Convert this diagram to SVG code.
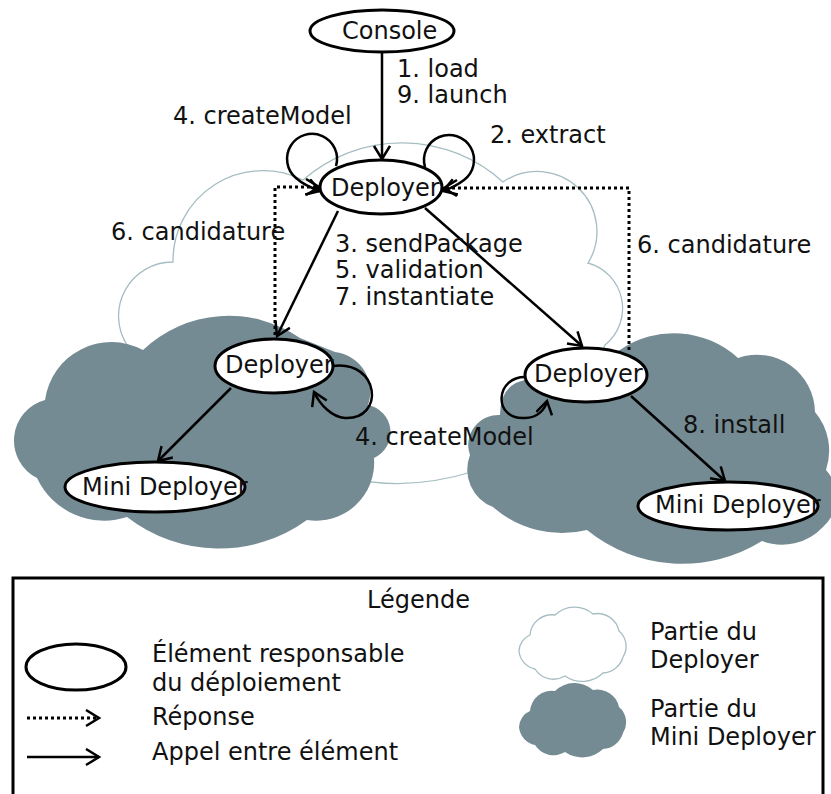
<svg xmlns="http://www.w3.org/2000/svg" width="831" height="794" viewBox="0 0 831 794">
<style>
text{font-family:"DejaVu Sans","Liberation Sans",sans-serif;font-size:24px;fill:#111}
.node{fill:#fff;stroke:#000;stroke-width:3}
.call{fill:none;stroke:#000;stroke-width:2.5;marker-end:url(#arr)}
.resp{fill:none;stroke:#000;stroke-width:3;stroke-dasharray:3 3;marker-end:url(#arr)}
.light{fill:#fff;stroke:#a6bec3;stroke-width:1.3}
.dark{fill:#758b93;stroke:none}
</style>
<defs>
<marker id="arr" markerUnits="userSpaceOnUse" markerWidth="18" markerHeight="20" refX="14" refY="9" orient="auto">
<path d="M1,1 L14,9 L1,17" fill="none" stroke="#000" stroke-width="2.5"/>
</marker>
<path id="cloud" d="M15 28 A22 22 0 0 1 40 8 A28 28 0 0 1 78 7 A22 22 0 0 1 104 24 A20 20 0 0 1 108 50 A22 22 0 0 1 88 66 A30 30 0 0 1 50 69 A22 22 0 0 1 20 62 A20 20 0 0 1 4 44 A18 18 0 0 1 15 28 Z"/>
</defs>
<g id="clouds">
<path class="light" d="M127 345 A54 54 0 0 1 173 262 A90 90 0 0 1 303 180 A150 150 0 0 1 503 182 A60 60 0 0 1 588 263 A47 47 0 0 1 605 345 L590 380 L540 440 L475 471 Q420 488 372 482 L200 450 L110 400 Z"/>
<path class="dark" d="M45 400 A67 67 0 0 1 143 350 A125 125 0 0 1 300 338 L335 352 A40 40 0 0 1 368 405 A28 28 0 0 1 374 458 A58 58 0 0 1 307 520 A150 150 0 0 1 127 517 A74 74 0 0 1 37 478 A42 42 0 0 1 45 400 Z"/>
<path class="dark" d="M620 350 A95 95 0 0 1 738 358 A58 58 0 0 1 815 412 A60 60 0 0 1 826 470 A40 40 0 0 1 823 527 A56 56 0 0 1 762 541 A151 151 0 0 1 587 530 A104 104 0 0 1 493 507 A40 40 0 0 1 470 455 A30 30 0 0 1 500 415 Q500 385 525 380 L560 372 Z"/>
</g>
<g id="connectors">
<path class="call" d="M382 53 L382 159"/>
<path class="call" d="M336 166 A25 25 0 1 0 296 178 Q305 186 320 191"/>
<path class="call" d="M425 167 A25 25 0 1 1 464 180 Q455 187 443 191"/>
<path class="resp" d="M275 335 L275 187 L319 187"/>
<path class="resp" d="M629 350 L629 188 L444 188"/>
<path class="call" d="M338 211 L277 336"/>
<path class="call" d="M425 208 L582 346"/>
<path class="call" d="M231 388 L158 461"/>
<path class="call" d="M631 396 L725 481"/>
<path class="call" d="M333 366 C380 360 385 420 345 418 C332 417 320 405 314 392"/>
<path class="call" d="M527 377 C495 375 492 420 525 418 C537 418 545 410 547 401"/>
</g>
<g id="labels">
<text x="397" y="77">1. load</text>
<text x="397" y="103">9. launch</text>
<text x="173" y="124">4. createModel</text>
<text x="490" y="143">2. extract</text>
<text x="111" y="240">6. candidature</text>
<text x="335" y="252">3. sendPackage</text>
<text x="335" y="278">5. validation</text>
<text x="335" y="305">7. instantiate</text>
<text x="637" y="253">6. candidature</text>
<text x="355" y="445">4. createModel</text>
<text x="683" y="433">8. install</text>
</g>
<g id="console">
<ellipse class="node" cx="382" cy="31" rx="72" ry="21"/>
<text x="342" y="39">Console</text>
</g>
<g id="deployer-top">
<ellipse class="node" cx="381" cy="187" rx="61" ry="27"/>
<text x="331" y="196">Deployer</text>
</g>
<g id="deployer-left">
<ellipse class="node" cx="274" cy="366" rx="59" ry="27"/>
<text x="225" y="373">Deployer</text>
</g>
<g id="deployer-right">
<ellipse class="node" cx="586" cy="375" rx="61" ry="27"/>
<text x="534" y="382">Deployer</text>
</g>
<g id="mini-left">
<ellipse class="node" cx="155" cy="487" rx="90" ry="25"/>
<text x="82" y="495">Mini Deployer</text>
</g>
<g id="mini-right">
<ellipse class="node" cx="728" cy="506" rx="90" ry="24"/>
<text x="655" y="513">Mini Deployer</text>
</g>
<g id="legend">
<rect x="13" y="578" width="810" height="240" fill="#fff" stroke="#000" stroke-width="3"/>
<text x="367" y="608">Légende</text>
<ellipse cx="76" cy="667" rx="50" ry="23" fill="none" stroke="#000" stroke-width="3"/>
<text x="152" y="662">Élément responsable</text>
<text x="152" y="691">du déploiement</text>
<path class="resp" d="M27 718 L99 718" stroke-width="2.5"/>
<text x="152" y="725">Réponse</text>
<path class="call" d="M27 757 L99 757"/>
<text x="152" y="760">Appel entre élément</text>
<use href="#cloud" x="515" y="607" class="light"/>
<use href="#cloud" x="515" y="683" class="dark"/>
<text x="650" y="640">Partie du</text>
<text x="650" y="668">Deployer</text>
<text x="650" y="717">Partie du</text>
<text x="650" y="745">Mini Deployer</text>
</g>
</svg>
